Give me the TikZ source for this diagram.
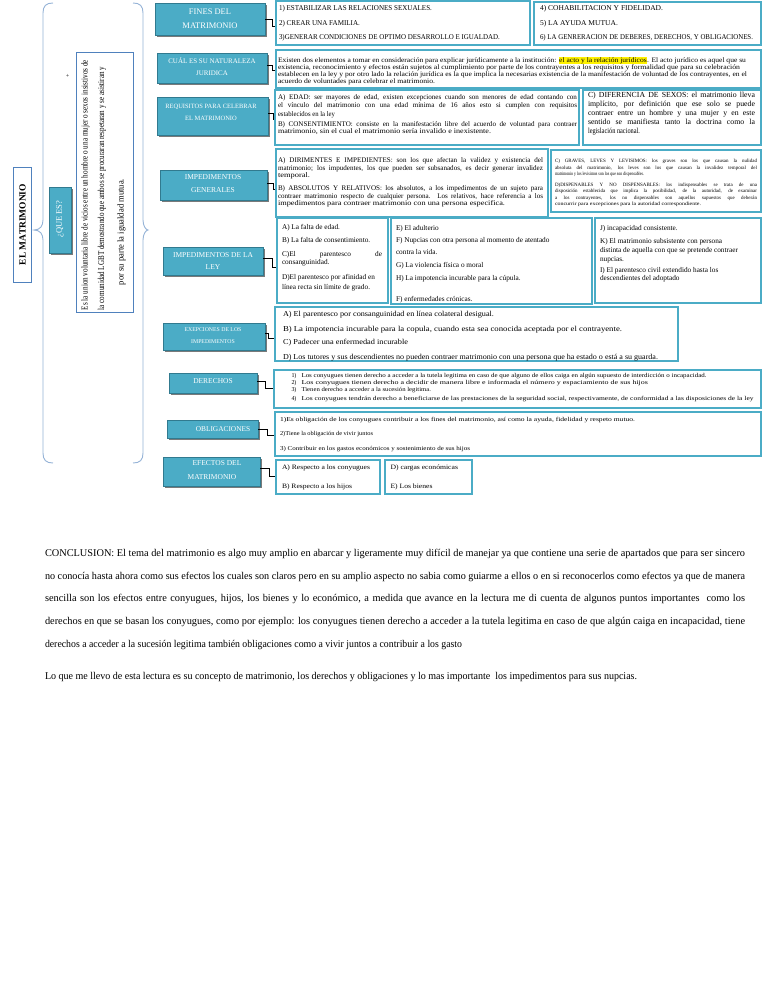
\documentclass[tikz,border=0pt]{standalone}
\usepackage{fontspec}
\setmainfont{Liberation Serif}
\usepackage{graphicx}
\usetikzlibrary{fit,shadows}
\definecolor{tealc}{RGB}{75,172,198}
\definecolor{teald}{RGB}{49,122,143}
\definecolor{bordc}{RGB}{75,172,198}
\definecolor{blueb}{RGB}{79,129,189}
\definecolor{brc}{RGB}{149,179,215}
\newcommand\fs[1]{\fontsize{#1}{#1}\selectfont}
\newlength\tmpw
\newcommand\jw[2]{\settowidth\tmpw{#2}\ifdim\tmpw>#1bp\relax\resizebox{#1bp}{\height}{#2}\else\makebox[#1bp][s]{#2}\fi}
\newcommand\fw[2]{\resizebox{#1bp}{\height}{#2}}
\newcommand\bx[6]{\coordinate (#1-a) at (#2,#3); \coordinate (#1-b) at (#4,#5); \node[#6,fit=(#1-a)(#1-b),inner sep=0pt] (#1) {};}
\begin{document}
\begin{tikzpicture}[x=1bp,y=-1bp,
  teal/.style={draw=teald,line width=0.8bp,fill=tealc,drop shadow={shadow xshift=1.8bp,shadow yshift=-1.8bp,fill=black!65,opacity=0.8}},
  tb/.style={draw=bordc,line width=1.5bp,fill=white},
  lt/.style={anchor=base west,inner sep=0pt,outer sep=0pt},
  tt/.style={anchor=center,inner sep=0pt,text=white},
  conn/.style={draw=black,line width=0.9bp},
  brace/.style={draw=brc,line width=0.9bp}]
\useasboundingbox[fill=white] (0,0) rectangle (768,994);

% ---------------- left part
\bx{elm}{13}{167}{31}{282}{draw=blueb,line width=1bp,fill=white}
\node[anchor=center,inner sep=0pt,rotate=90,font=\fs{9.5}\bfseries] (elmt) at (22.5,224.5) {EL MATRIMONIO};
\draw[brace] (53,3) .. controls (46,3) and (43,6) .. (43,13) -- (43,220) .. controls (43,226) and (40,230) .. (34,230) .. controls (40,230) and (43,234) .. (43,240) -- (43,453) .. controls (43,460) and (46,463) .. (53,463);
\bx{que}{49}{187}{71}{253}{teal}
\node[tt,rotate=90,font=\fs{8.5}] (quet) at (60,219) {¿QUE ES?};
\node[anchor=center,inner sep=0pt,rotate=90,font=\fs{6}] (plus) at (68,76) {+};
\bx{def}{76}{52}{133}{312}{draw=blueb,line width=0.8bp,fill=white}
\node[lt,rotate=90,font=\fs{9}] (q1) at (87.5,310) {\fw{250}{Es la union voluntaria libre de vicios entre un hombre o una mujer o sexos insistivos de}};
\node[lt,rotate=90,font=\fs{9}] (q2) at (104,310) {\fw{243}{la comunidad LGBT demostrando que ambos se procuraran respetaran y se asistiran y}};
\node[lt,rotate=90,font=\fs{9}] (q3) at (123.5,285) {\fw{106}{por su parte la igualdad mutua.}};
\draw[brace] (133,3) .. controls (140,3) and (143,6) .. (143,13) -- (143,220) .. controls (143,226) and (146,230) .. (148,230) .. controls (146,230) and (143,234) .. (143,240) -- (143,453) .. controls (143,460) and (140,463) .. (133,463);

% ---------------- FINES
\bx{fin}{155}{3}{265}{35}{teal}
\node[tt,font=\fs{8.5}] (fint1) at (210,12) {FINES DEL};
\node[tt,font=\fs{8.5}] (fint2) at (210,26) {MATRIMONIO};
\bx{b1}{276}{1}{530}{45}{tb}
\bx{b2}{534}{2}{761}{45}{tb}
\draw[conn] (fin.east |- 0,19.3) -- (272.7,19.3) |- (b1.west |- 0,26);
\node[lt,font=\fs{7.4}] (f1) at (279,10.5) {\fw{153}{1) ESTABILIZAR LAS RELACIONES SEXUALES.}};
\node[lt,font=\fs{7.4}] (f2) at (279,25) {\fw{81}{2) CREAR UNA FAMILIA.}};
\node[lt,font=\fs{7.4}] (f3) at (279,39.5) {\fw{221}{3)GENERAR CONDICIONES DE OPTIMO DESARROLLO E IGUALDAD.}};
\node[lt,font=\fs{7.4}] (f4) at (540,10.5) {\fw{123}{4) COHABILITACION Y FIDELIDAD.}};
\node[lt,font=\fs{7.4}] (f5) at (540,25) {\fw{78}{5) LA AYUDA MUTUA.}};
\node[lt,font=\fs{7.4}] (f6) at (540,39.5) {\fw{213}{6) LA GENRERACION DE DEBERES, DERECHOS, Y OBLIGACIONES.}};

% ---------------- NATURALEZA
\bx{nat}{157}{53}{267}{83}{teal}
\node[tt,font=\fs{7}] (natt1) at (212,61) {CUÁL ES SU NATURALEZA};
\node[tt,font=\fs{7}] (natt2) at (212,73) {JURIDICA};
\bx{nb}{276}{50}{761}{88}{tb}
\draw[conn] (nat.east |- 0,65) -- (272.7,65) |- (nb.west |- 0,70.7);
\node[lt,font=\fs{6.9}] (n1) at (278,62.5) {\fw{468}{Existen dos elementos a tomar en consideración para explicar jurídicamente a la institución: {\fboxsep=0.3bp\colorbox{yellow}{el acto y la relación jurídicos}}. El acto jurídico es aquel que su}};
\node[lt,font=\fs{6.9}] (n2) at (278,69.5) {\fw{462}{existencia, reconocimiento y efectos están sujetos al cumplimiento por parte de los contrayentes a los requisitos y formalidad que para su celebración}};
\node[lt,font=\fs{6.9}] (n3) at (278,76.5) {\fw{469}{establecen en la ley y por otro lado la relación jurídica es la que implica la necesarias existencia de la manifestación de voluntad de los contrayentes, en el}};
\node[lt,font=\fs{6.9}] (n4) at (278,83.8) {\fw{157}{acuerdo de voluntades para celebrar el matrimonio.}};

% ---------------- REQUISITOS
\bx{req}{157}{97}{268}{135}{teal}
\node[tt,font=\fs{6.5}] (reqt1) at (211,107) {REQUISITOS PARA CELEBRAR};
\node[tt,font=\fs{6.5}] (reqt2) at (211,118.5) {EL MATRIMONIO};
\bx{rab}{275}{90}{579}{145}{tb}
\bx{rc}{583}{90}{761}{145}{tb}
\draw[conn] (req.east |- 0,113) -- (273,113) |- (rab.west |- 0,119);
\node[lt,font=\fs{7.1}] (r1) at (278,99.5) {\jw{299}{A) EDAD: ser mayores de edad, existen excepciones cuando son menores de edad contando con}};
\node[lt,font=\fs{7.1}] (r2) at (278,107.8) {\jw{299}{el vínculo del matrimonio con una edad mínima de 16 años esto si cumplen con requisitos}};
\node[lt,font=\fs{7.1}] (r3) at (278,116) {\fw{57}{establecidos en la ley}};
\node[lt,font=\fs{7.1}] (r4) at (278,126) {\jw{299}{B) CONSENTIMIENTO: consiste en la manifestación libre del acuerdo de voluntad para contraer}};
\node[lt,font=\fs{7.1}] (r5) at (278,133.5) {\fw{213}{matrimonio, sin el cual el matrimonio sería invalido e inexistente.}};
\node[lt,font=\fs{7.8}] (c1) at (588,97) {\jw{167}{C) DIFERENCIA DE SEXOS: el matrimonio lleva}};
\node[lt,font=\fs{7.8}] (c2) at (588,106.3) {\jw{167}{implícito, por definición que ese solo se puede}};
\node[lt,font=\fs{7.8}] (c3) at (588,115) {\jw{167}{contraer entre un hombre y una mujer y en este}};
\node[lt,font=\fs{7.8}] (c4) at (588,124) {\jw{167}{sentido se manifiesta tanto la doctrina como la}};
\node[lt,font=\fs{7.8}] (c5) at (588,133) {\fw{52}{legislación nacional.}};

% ---------------- IMPEDIMENTOS GENERALES
\bx{ig}{160}{170}{267}{200}{teal}
\node[tt,font=\fs{7.5}] (igt1) at (213,177.5) {IMPEDIMENTOS};
\node[tt,font=\fs{7.5}] (igt2) at (213,190.5) {GENERALES};
\bx{gab}{276}{149}{548}{217}{tb}
\bx{gcd}{551}{150}{761}{212}{tb}
\draw[conn] (ig.east |- 0,183) -- (273,183) |- (gab.west |- 0,189);
\node[lt,font=\fs{7.1}] (g1) at (278,162) {\jw{265}{A) DIRIMENTES E IMPEDIENTES: son los que afectan la validez y existencia del}};
\node[lt,font=\fs{7.1}] (g2) at (278,170.3) {\jw{265}{matrimonio; los impudentes, los que pueden ser subsanados, es decir generar invalidez}};
\node[lt,font=\fs{7.1}] (g3) at (278,177.3) {\fw{32}{temporal.}};
\node[lt,font=\fs{7.1}] (g4) at (278,190.7) {\jw{265}{B) ABSOLUTOS Y RELATIVOS: los absolutos, a los impedimentos de un sujeto para}};
\node[lt,font=\fs{7.1}] (g5) at (278,198) {\jw{265}{contraer matrimonio respecto de cualquier persona. Los relativos, hace referencia a los}};
\node[lt,font=\fs{7.1}] (g6) at (278,205.3) {\fw{227}{impedimentos para contraer matrimonio con una persona especifica.}};
\node[lt,font=\fs{5}] (d1) at (555,162) {\jw{202}{C) GRAVES, LEVES Y LEVISIMOS: los graves son los que causan la nulidad}};
\node[lt,font=\fs{5}] (d2) at (555,169) {\jw{202}{absoluta del matrimonio, los leves son los que causan la invalidez temporal del}};
\node[lt,font=\fs{5}] (d3) at (555,175) {\fw{89}{matrimonio y los levisimos son los que son dispensables.}};
\node[lt,font=\fs{5}] (d4) at (555,186.5) {\jw{202}{D)DISPENABLES Y NO DISPENSABLES: los indispensables se trata de una}};
\node[lt,font=\fs{5}] (d5) at (555,192.5) {\jw{202}{disposición establecida que implica la posibilidad, de la autoridad, de examinar}};
\node[lt,font=\fs{5}] (d6) at (555,199) {\jw{202}{a los contrayentes, los no dispensables son aquellos supuestos que deberán}};
\node[lt,font=\fs{5}] (d7) at (555,205) {\fw{146}{concurrir para excepciones para la autoridad correspondiente.}};

% ---------------- IMPEDIMENTOS DE LA LEY
\bx{il}{163}{247}{263}{275}{teal}
\node[tt,font=\fs{7.5}] (ilt1) at (213,255) {IMPEDIMENTOS DE LA};
\node[tt,font=\fs{7.5}] (ilt2) at (213,267) {LEY};
\bx{lad}{277}{218}{388}{303}{tb}
\bx{leh}{391}{218}{592}{304}{tb}
\bx{lji}{595}{218}{761}{303}{tb}
\draw[conn] (il.east |- 0,258) -- (272,258) |- (lad.west |- 0,267);
\node[lt,font=\fs{7.3}] (a1) at (282,229) {A) La falta de edad.};
\node[lt,font=\fs{7.3}] (a2) at (282,242.3) {B) La falta de consentimiento.};
\node[lt,font=\fs{7.3}] (a3) at (282,256.6) {\jw{100}{C)El parentesco de}};
\node[lt,font=\fs{7.3}] (a4) at (282,264.5) {consanguinidad.};
\node[lt,font=\fs{7.3}] (a5) at (282,279) {D)El parentesco por afinidad en};
\node[lt,font=\fs{7.3}] (a6) at (282,289) {línea recta sin límite de grado.};
\node[lt,font=\fs{7.3}] (e1) at (396,230) {E) El adulterio};
\node[lt,font=\fs{7.3}] (e2) at (396,242.3) {F) Nupcias con otra persona al momento de atentado};
\node[lt,font=\fs{7.3}] (e3) at (396,254.6) {contra la vida.};
\node[lt,font=\fs{7.3}] (e4) at (396,267.3) {G) La violencia física o moral};
\node[lt,font=\fs{7.3}] (e5) at (396,280) {H) La impotencia incurable para la cúpula.};
\node[lt,font=\fs{7.3}] (e6) at (396,301.3) {F) enfermedades crónicas.};
\node[lt,font=\fs{7.3}] (j1) at (600,230.3) {J) incapacidad consistente.};
\node[lt,font=\fs{7.3}] (j2) at (600,243) {K) El matrimonio subsistente con persona};
\node[lt,font=\fs{7.3}] (j3) at (600,252) {distinta de aquella con que se pretende contraer};
\node[lt,font=\fs{7.3}] (j4) at (600,261) {nupcias.};
\node[lt,font=\fs{7.3}] (j5) at (600,272) {I) El parentesco civil extendido hasta los};
\node[lt,font=\fs{7.3}] (j6) at (600,280.3) {descendientes del adoptado};

% ---------------- EXEPCIONES
\bx{exc}{163}{323}{265}{350}{teal}
\node[tt,font=\fs{5.8}] (exct1) at (213,330) {EXEPCIONES DE LOS};
\node[tt,font=\fs{5.8}] (exct2) at (213,342) {IMPEDIMENTOS};
\bx{xb}{275}{307}{678}{361}{tb}
\draw[conn] (exc.east |- 0,333) -- (268,333) |- (xb.west |- 0,338);
\node[lt,font=\fs{7.6}] (x1) at (283,316.6) {\fw{211}{A) El parentesco por consanguinidad en línea colateral desigual.}};
\node[lt,font=\fs{7.6}] (x2) at (283,331.3) {\fw{339}{B) La impotencia incurable para la copula, cuando esta sea conocida aceptada por el contrayente.}};
\node[lt,font=\fs{7.6}] (x3) at (283,344.6) {\fw{125}{C) Padecer una enfermedad incurable}};
\node[lt,font=\fs{7.6}] (x4) at (283,359) {\fw{375}{D) Los tutores y sus descendientes no pueden contraer matrimonio con una persona que ha estado o está a su guarda.}};

% ---------------- DERECHOS
\bx{der}{169}{373}{257}{393}{teal}
\node[tt,font=\fs{7.5}] (dert) at (213,381.5) {DERECHOS};
\bx{db}{274}{370}{761}{408}{tb}
\draw[conn] (der.east |- 0,381) -- (265,381) |- (db.west |- 0,388);
\node[lt,font=\fs{6}] (dn1) at (291.5,377.5) {1)};
\node[lt,font=\fs{6}] (dt1) at (301.5,377.5) {\fw{405}{Los conyugues tienen derecho a acceder a la tutela legitima en caso de que alguno de ellos caiga en algún supuesto de interdicción o incapacidad.}};
\node[lt,font=\fs{6}] (dn2) at (291.5,384.5) {2)};
\node[lt,font=\fs{6}] (dt2) at (301.5,384.5) {\fw{346.5}{Los conyugues tienen derecho a decidir de manera libre e informada el número y espaciamiento de sus hijos}};
\node[lt,font=\fs{6}] (dn3) at (291.5,391.8) {3)};
\node[lt,font=\fs{6}] (dt3) at (301.5,391.8) {\fw{129.5}{Tienen derecho a acceder a la sucesión legitima.}};
\node[lt,font=\fs{6}] (dn4) at (291.5,400) {4)};
\node[lt,font=\fs{6}] (dt4) at (301.5,400) {\fw{452}{Los conyugues tendrán derecho a beneficiarse de las prestaciones de la seguridad social, respectivamente, de conformidad a las disposiciones de la ley}};

% ---------------- OBLIGACIONES
\bx{obl}{167}{420}{258}{438}{teal}
\node[tt,font=\fs{7.4}] (oblt) at (223,429) {OBLIGACIONES};
\bx{ob}{275}{412}{761}{456}{tb}
\draw[conn] (obl.east |- 0,429) -- (267,429) |- (ob.west |- 0,435);
\node[lt,font=\fs{6}] (o1) at (280,421.8) {\fw{355}{1)Es obligación de los conyugues contribuir a los fines del matrimonio, así como la ayuda, fidelidad y respeto mutuo.}};
\node[lt,font=\fs{6}] (o2) at (280,435.8) {\fw{93}{2)Tiene la obligación de vivir juntos}};
\node[lt,font=\fs{6}] (o3) at (280,450) {\fw{190}{3) Contribuir en los gastos económicos y sostenimiento de sus hijos}};

% ---------------- EFECTOS
\bx{ef}{163}{457}{260}{486}{teal}
\node[tt,font=\fs{7.5}] (eft1) at (217,463.5) {EFECTOS DEL};
\node[tt,font=\fs{7.5}] (eft2) at (212,477.5) {MATRIMONIO};
\bx{eab}{276}{460}{380}{494}{tb}
\bx{ede}{385}{460}{472}{494}{tb}
\draw[conn] (ef.east |- 0,468) -- (269,468) |- (eab.west |- 0,476);
\node[lt,font=\fs{6.7}] (ea) at (282,469.5) {\fw{88}{A) Respecto a los conyugues}};
\node[lt,font=\fs{6.7}] (eb) at (282,488.3) {\fw{70}{B) Respecto a los hijos}};
\node[lt,font=\fs{6.7}] (ed) at (390.5,469.5) {\fw{67.5}{D) cargas económicas}};
\node[lt,font=\fs{6.7}] (ee) at (390.5,488.3) {\fw{42}{E) Los bienes}};

% ---------------- CONCLUSION
\node[lt,font=\fs{10.4}] (k1) at (45,556.5) {\jw{700}{CONCLUSION: El tema del matrimonio es algo muy amplio en abarcar y ligeramente muy difícil de manejar ya que contiene una serie de apartados que para ser sincero}};
\node[lt,font=\fs{10.4}] (k2) at (45,579.5) {\jw{700}{no conocía hasta ahora como sus efectos los cuales son claros pero en su amplio aspecto no sabia como guiarme a ellos o en si reconocerlos como efectos ya que de manera}};
\node[lt,font=\fs{10.4}] (k3) at (45,601.5) {\jw{700}{sencilla son los efectos entre conyugues, hijos, los bienes y lo económico, a medida que avance en la lectura me di cuenta de algunos puntos importantes \ como los}};
\node[lt,font=\fs{10.4}] (k4) at (45,624.5) {\jw{700}{derechos en que se basan los conyugues, como por ejemplo: los conyugues tienen derecho a acceder a la tutela legitima en caso de que algún caiga en incapacidad, tiene}};
\node[lt,font=\fs{10.4}] (k5) at (45,647.5) {\fw{417}{derechos a acceder a la sucesión legitima también obligaciones como a vivir juntos a contribuir a los gasto}};
\node[lt,font=\fs{10.4}] (k6) at (45,679.5) {\fw{592}{Lo que me llevo de esta lectura es su concepto de matrimonio, los derechos y obligaciones y lo mas importante \ los impedimentos para sus nupcias.}};
\end{tikzpicture}
\end{document}
